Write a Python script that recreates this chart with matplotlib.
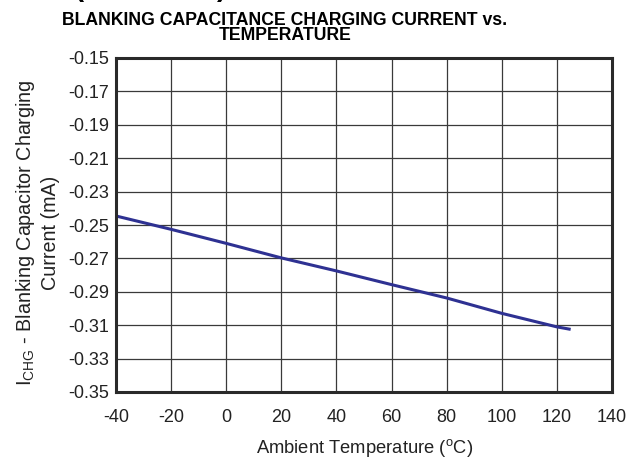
import matplotlib
matplotlib.use('Agg')
import matplotlib.pyplot as plt

plt.rcParams['font.family'] = ['Liberation Sans', 'DejaVu Sans']

# 読み取ったデータ
temp_c = [-40, -20, 0, 20, 40, 60, 80, 100, 120, 125]
i_chg_ma = [-0.2446, -0.2526, -0.2610, -0.2697, -0.2775, -0.2857, -0.2937,
            -0.3029, -0.3110, -0.3125]
x_ticks = [-40, -20, 0, 20, 40, 60, 80, 100, 120, 140]
y_ticks = [-0.35, -0.33, -0.31, -0.29, -0.27, -0.25, -0.23, -0.21, -0.19,
           -0.17, -0.15]

W, H = 638, 463
fig = plt.figure(figsize=(W / 100, H / 100), dpi=100)
ax = fig.add_axes([116 / W, 1 - 392 / H, (612 - 116) / W, (392 - 58) / H])

ax.plot(temp_c, i_chg_ma, color='#2E3192', lw=2.2, solid_capstyle='butt')
ax.set_xlim(-40, 140)
ax.set_ylim(-0.35, -0.15)
ax.set_xticks(x_ticks)
ax.set_yticks(y_ticks)
ax.set_xticklabels([str(t) for t in x_ticks])
ax.set_yticklabels(['%.2f' % v for v in y_ticks])
ax.grid(True, color='#3a3a3a', lw=0.9)
ax.tick_params(length=0, labelsize=13, colors='#222222')
ax.tick_params(axis='x', pad=12)
ax.tick_params(axis='y', pad=5)
for s in ax.spines.values():
    s.set_linewidth(2.2)
    s.set_color('#2a2a2a')

# 見出し（上端で切れている）
fig.text(226 / W, 1 + 4 / H, 'TYPICAL CHARACTERISTICS (continued)',
         ha='right', va='baseline', fontsize=20, fontweight='bold')
fig.text(285 / W, 1 - 28 / H,
         'BLANKING CAPACITANCE CHARGING CURRENT vs.\nTEMPERATURE',
         ha='center', va='center', fontsize=12.7, fontweight='bold',
         linespacing=0.9)

fig.text(37 / W, 1 - 233 / H,
         r'I$_{\mathregular{CHG}}$ - Blanking Capacitor Charging' + '\nCurrent (mA)',
         rotation=90, ha='center', va='center', fontsize=14.2,
         color='#222222', linespacing=1.2)
fig.text(365 / W, 1 - 448 / H, r'Ambient Temperature ($^{\mathregular{o}}$C)',
         ha='center', va='center', fontsize=13.2, color='#222222')

fig.savefig('out.png', dpi=100)
